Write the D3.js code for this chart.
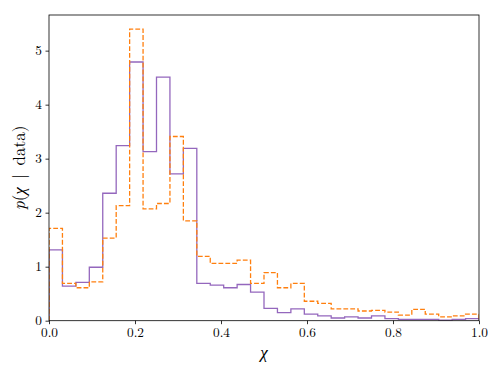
<!DOCTYPE html>
<html><head><meta charset="utf-8">
<script src="https://cdn.jsdelivr.net/npm/d3@7"></script>
<style>body{margin:0;background:#fff}</style>
</head><body>
<svg id="c" width="500" height="375"></svg>
<script>
const purpleValues = [1.31,0.64,0.71,0.99,2.36,3.24,4.79,3.13,4.51,2.72,3.19,0.69,0.66,0.61,0.67,0.53,0.23,0.15,0.22,0.12,0.09,0.05,0.07,0.05,0.09,0.04,0.025,0.025,0.025,0.01,0.025,0.04];
const orangeValues = [1.71,0.69,0.61,0.72,1.53,2.13,5.40,2.07,2.17,3.41,1.85,1.19,1.06,1.06,1.12,0.69,0.89,0.61,0.69,0.36,0.32,0.22,0.22,0.18,0.19,0.16,0.105,0.21,0.12,0.07,0.09,0.12];
const xTicks = [0,0.2,0.4,0.6,0.8,1.0];
const yTicks = [0,1,2,3,4,5];

const svg = d3.select("#c");
const m = {l:49, r:479, t:15, b:320.7};
const x = d3.scaleLinear().domain([0,1]).range([m.l, m.r]);
const y = d3.scaleLinear().domain([0,5.66]).range([m.b, m.t]);
const font = "'Latin Modern Roman','CMU Serif','Liberation Serif',serif";

svg.append("defs").append("clipPath").attr("id","clip")
  .append("rect").attr("x",m.l).attr("y",m.t).attr("width",m.r-m.l).attr("height",m.b-m.t);

function stepPath(vals){
  const n = vals.length;
  const pts = [[0,0]];
  vals.forEach((v,i)=>{ pts.push([i/n, v]); pts.push([(i+1)/n, v]); });
  pts.push([1,0]);
  return d3.line().x(d=>x(d[0])).y(d=>y(d[1]))(pts);
}

const g = svg.append("g").attr("clip-path","url(#clip)");
g.append("path").attr("d", stepPath(purpleValues)).attr("fill","none")
  .attr("stroke","#9467bd").attr("stroke-width",1.3);
g.append("path").attr("d", stepPath(orangeValues)).attr("fill","none")
  .attr("stroke","#ff7f0e").attr("stroke-width",1.3).attr("stroke-dasharray","4.8,2.1");

const xa = svg.append("g").attr("transform",`translate(0,${m.b})`)
  .call(d3.axisBottom(x).tickValues(xTicks).tickFormat(d3.format(".1f")).tickSize(3.5).tickPadding(3.5));
const ya = svg.append("g").attr("transform",`translate(${m.l},0)`)
  .call(d3.axisLeft(y).tickValues(yTicks).tickFormat(d3.format("d")).tickSize(3.5).tickPadding(3.5));
[xa,ya].forEach(a=>{
  a.select(".domain").remove();
  a.selectAll("line").attr("stroke","#000").attr("stroke-width",0.8);
  a.selectAll("text").attr("font-family",font).attr("font-size",13.3).attr("fill","#000");
});

svg.append("rect").attr("x",m.l).attr("y",m.t).attr("width",m.r-m.l).attr("height",m.b-m.t)
  .attr("fill","none").attr("stroke","#000").attr("stroke-width",0.8);

svg.append("text").attr("x",(m.l+m.r)/2).attr("y",358).attr("text-anchor","middle")
  .attr("font-family",font).attr("font-size",17).attr("font-style","italic").text("χ");

const yl = svg.append("text").attr("transform",`translate(25,${(m.t+m.b)/2}) rotate(-90)`)
  .attr("text-anchor","middle").attr("font-family",font).attr("font-size",17);
yl.append("tspan").attr("font-style","italic").text("p");
yl.append("tspan").text("(");
yl.append("tspan").attr("font-style","italic").text("χ");
yl.append("tspan").attr("xml:space","preserve").text("\u2002|\u2002data)");
</script>
</body></html>
